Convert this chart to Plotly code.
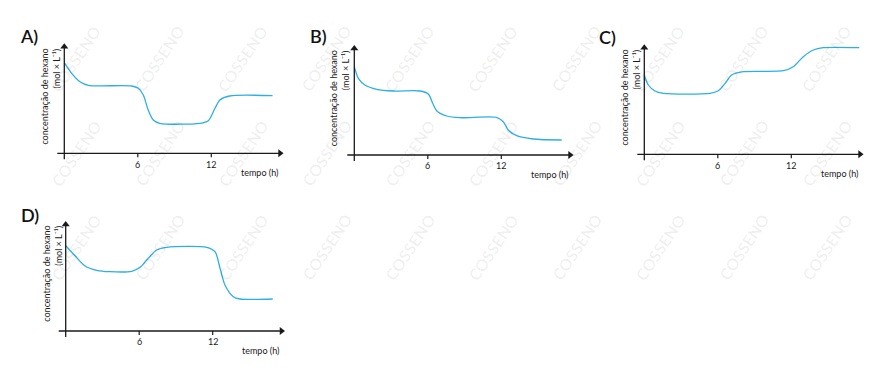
import plotly.graph_objects as go

# ---------------- data ----------------
time_A = [0, 0.6, 1.28, 1.96, 5.5, 6.04, 6.45, 6.85, 7.26, 7.8, 11.08, 11.76, 12.3, 12.7, 13.5, 17.0]
conc_A = [90.6, 80, 71.6, 68, 67.3, 65, 58.3, 43.3, 33.3, 30, 30, 32.6, 45, 53.3, 57.3, 57.6]

time_B = [0, 0.33, 0.87, 1.83, 3.2, 5.36, 6.04, 6.4, 6.72, 7.54, 8.63, 11.6, 12.16, 12.57, 13.26, 14.6, 16.93]
conc_B = [88.3, 76.7, 70, 65.7, 64, 64, 61, 51.7, 44.3, 39, 37.3, 37.7, 33.3, 25, 19.3, 16, 15]

time_C = [0, 0.33, 0.87, 1.55, 5.36, 6.04, 6.6, 7.13, 8.08, 11.35, 12.16, 12.98, 13.8, 14.6, 17.55]
conc_C = [79.3, 69.3, 63.3, 61, 61, 63.6, 71, 79.3, 82.6, 83.6, 87.6, 97.6, 104.3, 106.6, 106.6]

time_D = [0, 0.76, 1.58, 2.53, 3.6, 5.39, 6.07, 6.74, 7.43, 8.24, 11.51, 12.19, 12.6, 13.0, 13.68, 14.23, 16.9]
conc_D = [85.3, 75.3, 65, 60.7, 59.3, 59.7, 63.7, 72.7, 81, 83.7, 83.7, 79.3, 62.7, 46, 34.3, 32, 32]

panel_labels = ["A)", "B)", "C)", "D)"]
tick_values = [6, 12]
tick_labels = ["6", "12"]
y_title = "concentração de hexano"
y_unit = "(mol × L⁻¹)"
x_title = "tempo (h)"
watermark = "COSSENO"

series = [(time_A, conc_A), (time_B, conc_B), (time_C, conc_C), (time_D, conc_D)]

# ---------------- layout geometry ----------------
W, H = 887, 378
PXH = 12.25           # pixels per hour
X_END, Y_END = 17.9, 110
origins = [(64.3, 153.3), (354.3, 155.0), (644.3, 154.3), (65.7, 331.0)]
label_pos = [(29, 36.5), (318.5, 36.5), (607.5, 37), (30, 215)]
LINE = "#2EAEE6"
INK = "#1a1a1a"
FONT = "Lato"

fig = go.Figure()
layout = dict(width=W, height=H, margin=dict(l=0, r=0, t=0, b=0),
              paper_bgcolor="white", plot_bgcolor="rgba(0,0,0,0)",
              showlegend=False)
annotations = []
shapes = []

# watermark (faint tiled text), only where fully inside the page
for j in range(5):
    for i in range(12):
        cx = -7.5 + 83.4 * i
        cy = -35 + 94 * j
        if cx < 30 or cx > W - 30 or cy < 40 or cy > H - 40:
            continue
        annotations.append(dict(xref="paper", yref="paper", x=cx / W, y=1 - cy / H,
                                text="<b>" + watermark + "</b>", showarrow=False,
                                textangle=-56, font=dict(family=FONT, size=16, color="rgba(0,0,0,0.06)"),
                                xanchor="center", yanchor="middle"))

for k, ((t, c), (ox, oy)) in enumerate(zip(series, origins)):
    n = "" if k == 0 else str(k + 1)
    left, right = ox - 45, ox + 225
    top, bottom = oy - 125, oy + 30
    xr = [(left - ox) / PXH, (right - ox) / PXH]
    yr = [oy - bottom, oy - top]
    layout["xaxis" + n] = dict(domain=[left / W, right / W], range=xr, visible=False,
                               anchor="y" + n, fixedrange=True)
    layout["yaxis" + n] = dict(domain=[1 - bottom / H, 1 - top / H], range=yr, visible=False,
                               anchor="x" + n, fixedrange=True)
    xa, ya = "x" + n, "y" + n
    fig.add_trace(go.Scatter(x=t, y=c, mode="lines", xaxis=xa, yaxis=ya,
                             line=dict(color=LINE, width=1.3, shape="spline", smoothing=0.8),
                             hoverinfo="skip"))
    # axes lines
    shapes.append(dict(type="line", xref=xa, yref=ya, x0=-7 / PXH, x1=X_END - 2 / PXH, y0=0, y1=0,
                       line=dict(color=INK, width=1.3)))
    shapes.append(dict(type="line", xref=xa, yref=ya, x0=0, x1=0, y0=-6, y1=Y_END - 2,
                       line=dict(color=INK, width=1.3)))
    # arrow heads
    fig.add_trace(go.Scatter(x=[X_END - 3.5 / PXH, 0], y=[0, Y_END - 3.5], mode="markers",
                             xaxis=xa, yaxis=ya, hoverinfo="skip",
                             marker=dict(symbol=["triangle-right", "triangle-up"], size=7,
                                         color=INK, line=dict(width=0))))
    for tv, tl in zip(tick_values, tick_labels):
        shapes.append(dict(type="line", xref=xa, yref=ya, x0=tv, x1=tv, y0=0, y1=-4,
                           line=dict(color=INK, width=1.2)))
        annotations.append(dict(xref=xa, yref=ya, x=tv, y=-10.7, text=tl, showarrow=False,
                                font=dict(family=FONT, size=9, color=INK),
                                xanchor="center", yanchor="middle"))
    annotations.append(dict(xref=xa, yref=ya, x=17.6, y=-19.5, text=x_title, showarrow=False,
                            font=dict(family=FONT, size=9, color=INK),
                            xanchor="right", yanchor="middle"))
    annotations.append(dict(xref=xa, yref=ya, x=-20 / PXH, y=107, text=y_title, showarrow=False,
                            textangle=-90, font=dict(family=FONT, size=9, color=INK),
                            xanchor="center", yanchor="top"))
    annotations.append(dict(xref=xa, yref=ya, x=-8 / PXH, y=107, text=y_unit, showarrow=False,
                            textangle=-90, font=dict(family=FONT, size=9, color=INK),
                            xanchor="center", yanchor="top"))
    lx, ly = label_pos[k]
    annotations.append(dict(xref="paper", yref="paper", x=lx / W, y=1 - ly / H, text=panel_labels[k],
                            showarrow=False, font=dict(family=FONT, size=18, color="#111", weight=600),
                            xanchor="center", yanchor="middle"))

layout["annotations"] = annotations
layout["shapes"] = shapes
fig.update_layout(**layout)
fig.write_html("out.html", config={"displayModeBar": False},
               post_script="document.body.style.margin='0';document.body.style.padding='0';")
